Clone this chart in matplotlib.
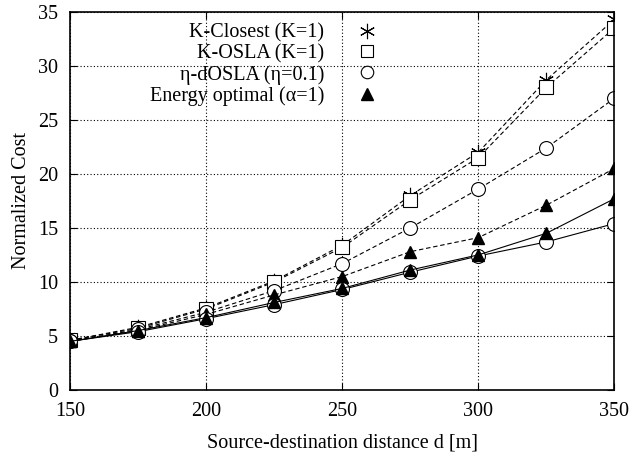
import matplotlib
matplotlib.use("Agg")
import matplotlib.pyplot as plt
from matplotlib.lines import Line2D

# ---------------------------------
# Data
# ---------------------------------
distance = [150, 175, 200, 225, 250, 275, 300, 325, 350]

# dashed curves
k_closest = [4.6, 5.8, 7.6, 10.1, 13.4, 18.0, 22.0, 28.7, 34.3]
k_osla = [4.6, 5.7, 7.5, 10.0, 13.2, 17.6, 21.5, 28.0, 33.5]
eta_dosla = [4.5, 5.6, 7.2, 9.2, 11.7, 15.0, 18.6, 22.4, 27.0]
energy_opt = [4.5, 5.5, 7.0, 8.8, 10.5, 12.8, 14.1, 17.1, 20.5]

# solid curves
eta_dosla_solid = [4.5, 5.4, 6.6, 7.9, 9.3, 10.9, 12.4, 13.7, 15.4]
energy_opt_solid = [4.5, 5.5, 6.7, 8.1, 9.4, 11.1, 12.5, 14.5, 17.7]

labels = ["K-Closest (K=1)", "K-OSLA (K=1)",
          "\u03b7-dOSLA (\u03b7=0.1)", "Energy optimal (\u03b1=1)"]

plt.rcParams['font.family'] = ['Liberation Serif', 'DejaVu Serif']

fig = plt.figure(figsize=(6.34, 4.55), dpi=100)
ax = fig.add_axes([0.111, 0.143, 0.858, 0.831])

fs = 14.5
lw = 0.8
dash = (0, (4, 2.5))
star = (6, 2, 0)
ax.plot(distance, k_closest, ls=dash, lw=lw, color='black',
        marker=star, ms=11, mew=0.8, mfc='none', mec='black')
ax.plot(distance, k_osla, ls=dash, lw=lw, color='black',
        marker='s', ms=10, mew=0.8, mfc='white', mec='black')
ax.plot(distance, eta_dosla, ls=dash, lw=lw, color='black',
        marker='o', ms=10, mew=0.8, mfc='white', mec='black')
ax.plot(distance, energy_opt, ls=dash, lw=lw, color='black',
        marker='^', ms=8, mfc='black', mec='black')
ax.plot(distance, eta_dosla_solid, ls='-', lw=lw, color='black',
        marker='o', ms=10, mew=0.8, mfc='white', mec='black')
ax.plot(distance, energy_opt_solid, ls='-', lw=lw, color='black',
        marker='^', ms=8, mfc='black', mec='black')

ax.set_xlim(150, 350)
ax.set_ylim(0, 35)
ax.set_xticks([150, 200, 250, 300, 350])
ax.set_yticks(range(0, 36, 5))
ax.grid(True, ls=(0, (1, 2)), lw=0.8, color='black')
ax.tick_params(direction='in', top=True, right=True, length=5,
               labelsize=fs, pad=9)
for s in ax.spines.values():
    s.set_linewidth(1.2)

ax.set_xlabel("Source-destination distance d [m]", fontsize=fs, labelpad=9)
ax.set_ylabel("Normalized Cost", fontsize=fs, labelpad=5)

handles = [
    Line2D([], [], ls='none', marker=star, ms=11, mew=0.8, mec='black'),
    Line2D([], [], ls='none', marker='s', ms=9, mew=0.8, mfc='white', mec='black'),
    Line2D([], [], ls='none', marker='o', ms=9, mew=0.8, mfc='white', mec='black'),
    Line2D([], [], ls='none', marker='^', ms=8, mfc='black', mec='black'),
]
leg = ax.legend(handles, labels, loc='upper left', bbox_to_anchor=(0.131, 0.99),
                frameon=False, markerfirst=False, alignment='right',
                fontsize=fs, handlelength=1.0, handletextpad=1.65,
                labelspacing=0.065, borderaxespad=0)

fig.savefig("out.png", dpi=100)
